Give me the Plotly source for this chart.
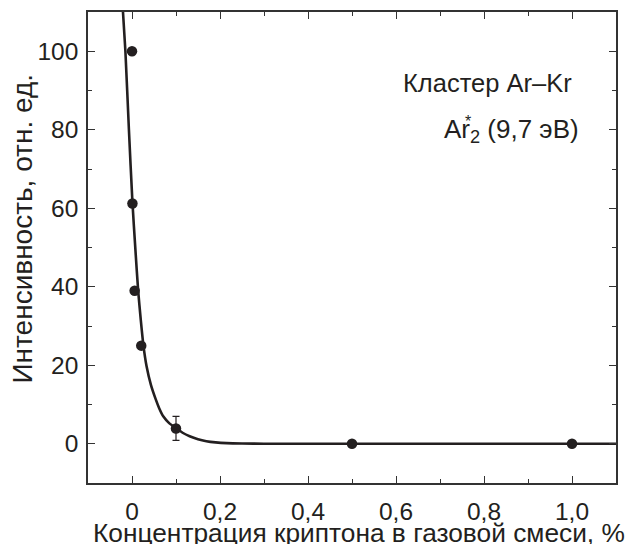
import plotly.graph_objects as go

# Measured data points
pt_x = [0.0, 0.001, 0.006, 0.021, 0.10, 0.5, 1.0]
pt_y = [100, 61.2, 39.0, 25.0, 3.9, 0, 0]
err_x = [0.10]
err_y = [3.9]
err_val = [3.05]

# Fitted curve
curve_x = [-0.0205, -0.015, -0.007, 0.001, 0.008, 0.014, 0.020, 0.026, 0.033, 0.043,
           0.054, 0.062, 0.071, 0.085, 0.100, 0.115, 0.131, 0.150, 0.169, 0.190,
           0.215, 0.250, 0.300, 0.400, 0.600, 0.800, 1.000, 1.100]
curve_y = [110, 100, 80, 61.5, 49, 39, 31.5, 25, 19.8, 15,
           11.3, 9.0, 7.0, 5.2, 4.0, 2.8, 1.9, 1.15, 0.66, 0.35,
           0.15, 0.05, 0.01, 0, 0, 0, 0, 0]

x_tickvals = [0, 0.2, 0.4, 0.6, 0.8, 1.0]
x_ticktext = ["0", "0,2", "0,4", "0,6", "0,8", "1,0"]
y_tickvals = [0, 20, 40, 60, 80, 100]
y_ticktext = ["0", "20", "40", "60", "80", "100"]

x_title = "Концентрация криптона в газовой смеси, %"
y_title = "Интенсивность, отн. ед."
label1 = "Кластер Ar\u2013Kr"
label2 = "Ar<sub>2</sub> (9,7 эВ)"

ink = "#231f20"
font_family = "Liberation Sans, Arial, sans-serif"

fig = go.Figure()
fig.add_trace(go.Scatter(x=curve_x, y=curve_y, mode="lines",
                         line=dict(color=ink, width=2.6, shape="spline", smoothing=0.6),
                         hoverinfo="skip", showlegend=False))
fig.add_trace(go.Scatter(x=err_x, y=err_y, mode="markers",
                         marker=dict(size=1, color=ink),
                         error_y=dict(type="data", array=err_val, visible=True,
                                      color=ink, thickness=1.2, width=3.5),
                         showlegend=False))
fig.add_trace(go.Scatter(x=pt_x, y=pt_y, mode="markers",
                         marker=dict(size=10.5, color=ink),
                         showlegend=False))

axis_common = dict(showline=True, linecolor="#333333", linewidth=1.5, mirror="ticks",
                   ticks="inside", ticklen=7, tickwidth=1.2, tickcolor="#333333",
                   showgrid=False, zeroline=False, automargin=False,
                   tickfont=dict(family=font_family, size=24.5, color=ink))

fig.update_xaxes(range=[-0.1, 1.1], tickvals=x_tickvals, ticktext=x_ticktext,
                 ticklabelstandoff=6,
                 minor=dict(dtick=0.1, tick0=0, ticks="inside", ticklen=4,
                            tickwidth=1.2, tickcolor="#333333"),
                 **axis_common)
fig.update_yaxes(range=[-10, 110], tickvals=y_tickvals, ticktext=y_ticktext,
                 ticklabelstandoff=3,
                 minor=dict(dtick=10, tick0=0, ticks="inside", ticklen=4,
                            tickwidth=1.2, tickcolor="#333333"),
                 **axis_common)

# axis titles as annotations positioned in pixels relative to the plot area
fig.add_annotation(x=0.5, y=0, xref="paper", yref="paper", xanchor="center",
                   yanchor="middle", text=x_title, showarrow=False, xshift=7, yshift=-50,
                   font=dict(family=font_family, size=26.3, color=ink))
fig.add_annotation(x=0, y=0.5, xref="paper", yref="paper", xanchor="center",
                   yanchor="middle", text=y_title, showarrow=False, textangle=-90,
                   xshift=-66, yshift=19,
                   font=dict(family=font_family, size=28, color=ink))

fig.add_annotation(x=0.921, y=0.849, xref="paper", yref="paper", xanchor="right",
                   yanchor="middle", text=label1, showarrow=False,
                   font=dict(family=font_family, size=25.5, color=ink))
fig.add_annotation(x=0.934, y=0.748, xref="paper", yref="paper", xanchor="right",
                   yanchor="middle", text=label2, showarrow=False,
                   font=dict(family=font_family, size=26, color=ink))
fig.add_annotation(x=0.72, y=0.768, xref="paper", yref="paper", xanchor="center",
                   yanchor="middle", text="*", showarrow=False,
                   font=dict(family=font_family, size=16, color=ink))

fig.update_layout(width=625, height=536, plot_bgcolor="white", paper_bgcolor="white",
                  margin=dict(l=80, r=17, t=4, b=61),
                  font=dict(family=font_family, color=ink))

fig.write_html("out.html")
